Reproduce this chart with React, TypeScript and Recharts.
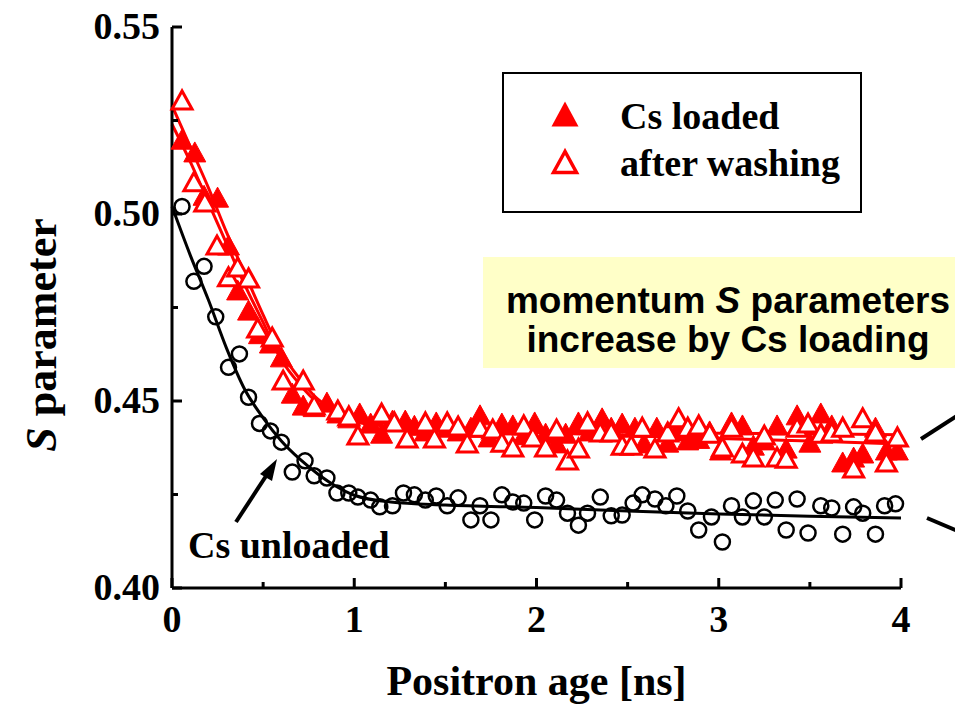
import {
  ComposedChart,
  Scatter,
  Line,
  XAxis,
  YAxis,
  Legend,
} from "recharts";

const SERIF = '"Liberation Serif", "Times New Roman", serif';
const SANS = '"Liberation Sans", Arial, sans-serif';
const RED = "#ff0000";

// Cs unloaded (open circles)
const unloadedX = [
  0.055, 0.12, 0.176, 0.24, 0.31, 0.37, 0.42, 0.48, 0.54, 0.6, 0.66, 0.73,
  0.78, 0.85, 0.905, 0.97, 1.02, 1.09, 1.14, 1.21, 1.27, 1.33, 1.39, 1.45,
  1.51, 1.57, 1.64, 1.69, 1.75, 1.81, 1.87, 1.93, 1.99, 2.05, 2.11, 2.17,
  2.23, 2.28, 2.35, 2.41, 2.47, 2.53, 2.58, 2.65, 2.71, 2.77, 2.83, 2.89,
  2.96, 3.02, 3.07, 3.13, 3.19, 3.25, 3.31, 3.37, 3.43, 3.49, 3.56, 3.62,
  3.68, 3.74, 3.79, 3.86, 3.91, 3.97,
];
const unloadedY = [
  0.502, 0.482, 0.486, 0.4725, 0.459, 0.4626, 0.451, 0.444, 0.442, 0.439,
  0.431, 0.434, 0.43, 0.4294, 0.4254, 0.4254, 0.4243, 0.4235, 0.4217, 0.422,
  0.4254, 0.4249, 0.4235, 0.4246, 0.422, 0.4241, 0.4182, 0.422, 0.4182,
  0.4249, 0.423, 0.4227, 0.4182, 0.4246, 0.4235, 0.42, 0.4168, 0.42, 0.4243,
  0.4193, 0.4195, 0.4227, 0.4249, 0.4238, 0.422, 0.4246, 0.4206, 0.4155,
  0.419, 0.4123, 0.422, 0.419, 0.4233, 0.419, 0.4235, 0.4155, 0.4238, 0.4147,
  0.422, 0.4214, 0.4144, 0.4217, 0.42, 0.4144, 0.422, 0.4225,
];

// Cs loaded (filled triangles)
const loadedX = [
  0.055, 0.125, 0.176, 0.25, 0.31, 0.36, 0.42, 0.48, 0.54, 0.6, 0.66, 0.72,
  0.78, 0.85, 0.91, 0.97, 1.03, 1.09, 1.15, 1.21, 1.28, 1.33, 1.39, 1.45,
  1.51, 1.57, 1.64, 1.69, 1.74, 1.81, 1.87, 1.93, 1.99, 2.05, 2.11, 2.16,
  2.23, 2.29, 2.36, 2.41, 2.47, 2.54, 2.59, 2.66, 2.72, 2.77, 2.83, 2.89,
  2.95, 3.01, 3.07, 3.13, 3.19, 3.25, 3.32, 3.37, 3.43, 3.5, 3.56, 3.62,
  3.68, 3.74, 3.79, 3.86, 3.92, 3.98,
];
const loadedY = [
  0.52, 0.5166, 0.505, 0.5045, 0.4917, 0.4797, 0.4743, 0.468, 0.4655, 0.4618,
  0.4521, 0.4489, 0.4485, 0.4497, 0.4468, 0.4455, 0.4468, 0.4441, 0.4414,
  0.4449, 0.4449, 0.4435, 0.442, 0.4444, 0.443, 0.442, 0.443, 0.4463, 0.4404,
  0.4441, 0.4436, 0.441, 0.4444, 0.4414, 0.4388, 0.4414, 0.4444, 0.442,
  0.4455, 0.443, 0.4441, 0.443, 0.4388, 0.443, 0.439, 0.442, 0.4396, 0.44,
  0.442, 0.4369, 0.4444, 0.4436, 0.4382, 0.4396, 0.4436, 0.4374, 0.4463,
  0.439, 0.4468, 0.4436, 0.4337, 0.435, 0.4361, 0.443, 0.4369, 0.4369,
];

// after washing (open triangles)
const washedX = [
  0.055, 0.12, 0.18, 0.247, 0.31, 0.36, 0.42, 0.47, 0.55, 0.61, 0.72, 0.78,
  0.91, 0.97, 1.02, 1.15, 1.22, 1.29, 1.39, 1.44, 1.51, 1.57, 1.62, 1.69,
  1.76, 1.81, 1.87, 1.93, 1.98, 2.05, 2.11, 2.17, 2.23, 2.28, 2.35, 2.41,
  2.47, 2.52, 2.58, 2.65, 2.72, 2.78, 2.83, 2.89, 2.95, 3.02, 3.07, 3.13,
  3.19, 3.25, 3.32, 3.37, 3.43, 3.49, 3.56, 3.62, 3.68, 3.74, 3.79, 3.86,
  3.92, 3.98,
];
const washedY = [
  0.5305, 0.5086, 0.5032, 0.4917, 0.4832, 0.4858, 0.4829, 0.4695, 0.4671,
  0.4556, 0.4556, 0.4489, 0.4476, 0.446, 0.4409, 0.4468, 0.4444, 0.4401,
  0.4444, 0.4401, 0.4444, 0.4433, 0.4388, 0.443, 0.4425, 0.439, 0.4377,
  0.4436, 0.4404, 0.4377, 0.4425, 0.4342, 0.4374, 0.4444, 0.4417, 0.4417,
  0.4382, 0.4382, 0.443, 0.4374, 0.4417, 0.4455, 0.443, 0.4436, 0.4414,
  0.4377, 0.443, 0.4361, 0.435, 0.4409, 0.435, 0.4347, 0.443, 0.4441, 0.4414,
  0.4417, 0.443, 0.4321, 0.4455, 0.4417, 0.4337, 0.4404,
];

// fitted curves
const fitX = [0, 0.1, 0.2, 0.3, 0.4, 0.5, 0.6, 0.7, 0.8, 0.9, 1.0, 1.2, 1.5, 2.0, 2.5, 3.0, 3.5, 4.0];
const unloadedFitY = [
  0.502, 0.489, 0.477, 0.464, 0.453, 0.4455, 0.4393, 0.4345, 0.4305, 0.4272,
  0.4248, 0.423, 0.4222, 0.4215, 0.4206, 0.4198, 0.4192, 0.4187,
];
const loadedFitY = [
  0.524, 0.514, 0.503, 0.492, 0.481, 0.471, 0.461, 0.4545, 0.4495, 0.4465,
  0.4445, 0.4432, 0.4425, 0.4415, 0.4408, 0.44, 0.4393, 0.4385,
];
const washedFitY = [
  0.529, 0.518, 0.507, 0.495, 0.484, 0.473, 0.463, 0.456, 0.4505, 0.4475,
  0.4455, 0.4438, 0.4428, 0.442, 0.4417, 0.4414, 0.4412, 0.441,
];

const xTicks = [0, 0.5, 1, 1.5, 2, 2.5, 3, 3.5, 4];
const yTicks = [0.4, 0.425, 0.45, 0.475, 0.5, 0.525, 0.55];

const zip = (xs: number[], ys: number[]) => xs.map((x, i) => ({ x, y: ys[i] }));

const unloaded = zip(unloadedX, unloadedY);
const loaded = zip(loadedX, loadedY);
const washed = zip(washedX, washedY);
const unloadedFit = zip(fitX, unloadedFitY);
const loadedFit = zip(fitX, loadedFitY);
const washedFit = zip(fitX, washedFitY);

const triPoints = (cx: number, cy: number, w: number, h: number) =>
  `${cx},${cy - h / 2} ${cx - w / 2},${cy + h / 2} ${cx + w / 2},${cy + h / 2}`;

const Circle = (p: any) => (
  <circle cx={p.cx} cy={p.cy} r={7.5} fill="none" stroke="#000" strokeWidth={2.5} />
);
const FilledTri = (p: any) => (
  <polygon points={triPoints(p.cx, p.cy, 22, 20)} fill={RED} stroke={RED} strokeWidth={1} />
);
const OpenTri = (p: any) => (
  <polygon
    points={triPoints(p.cx, p.cy, 20, 18)}
    fill="#fff"
    stroke={RED}
    strokeWidth={3}
    strokeLinejoin="miter"
  />
);

const isMajorY = (v: number) => Math.abs(v * 20 - Math.round(v * 20)) < 1e-6;
const isMajorX = (v: number) => Math.abs(v - Math.round(v)) < 1e-6;

const LeftTick = (p: any) => {
  const v = p.payload.value;
  const major = isMajorY(v);
  return (
    <g>
      <line x1={p.x} y1={p.y} x2={p.x + (major ? 10 : 6)} y2={p.y} stroke="#000" strokeWidth={3} />
      {major && (
        <text x={p.x - 12} y={p.y + 12} textAnchor="end" fontFamily={SERIF} fontWeight="bold" fontSize={38} fill="#000">
          {v.toFixed(2)}
        </text>
      )}
    </g>
  );
};

const RightTick = (p: any) => {
  const major = isMajorY(p.payload.value);
  return <line x1={p.x} y1={p.y} x2={p.x - (major ? 10 : 6)} y2={p.y} stroke="#000" strokeWidth={3} />;
};

const BottomTick = (p: any) => {
  const v = p.payload.value;
  const major = isMajorX(v);
  return (
    <g>
      <line x1={p.x} y1={p.y} x2={p.x} y2={p.y - (major ? 10 : 6)} stroke="#000" strokeWidth={3} />
      {major && (
        <text x={p.x} y={p.y + 44} textAnchor="middle" fontFamily={SERIF} fontWeight="bold" fontSize={38} fill="#000">
          {String(v)}
        </text>
      )}
    </g>
  );
};

const YTitle = (p: any) => {
  const vb = p.viewBox;
  const cx = vb.x + 56;
  const cy = vb.y + 308;
  return (
    <text
      x={cx}
      y={cy}
      transform={`rotate(-90 ${cx} ${cy})`}
      textAnchor="middle"
      fontFamily={SERIF}
      fontWeight="bold"
      fontSize={44}
      fill="#000"
    >
      <tspan fontStyle="italic">S</tspan> parameter
    </text>
  );
};

const XTitle = (p: any) => {
  const vb = p.viewBox;
  return (
    <text
      x={vb.x + vb.width / 2}
      y={vb.y + 107}
      textAnchor="middle"
      fontFamily={SERIF}
      fontWeight="bold"
      fontSize={42}
      fill="#000"
    >
      Positron age [ns]
    </text>
  );
};

const LegendBox = () => (
  <svg width={360} height={141} style={{ display: "block" }}>
    <rect x={1} y={1} width={358} height={139} fill="#fff" stroke="#000" strokeWidth={2} />
    <polygon points={triPoints(63, 42, 27, 25)} fill={RED} />
    <text x={118} y={57} fontFamily={SERIF} fontWeight="bold" fontSize={38} fill="#000">
      Cs loaded
    </text>
    <polygon points={triPoints(63, 90, 23, 21)} fill="#fff" stroke={RED} strokeWidth={3.5} />
    <text x={118} y={104} fontFamily={SERIF} fontWeight="bold" fontSize={38} fill="#000">
      after washing
    </text>
  </svg>
);

export default function App() {
  return (
    <div style={{ position: "absolute", left: 0, top: 0, width: 955, height: 707, background: "#fff", overflow: "hidden" }}>
      <div
        style={{
          position: "absolute",
          left: 483,
          top: 257,
          width: 480,
          height: 111,
          background: "#ffffc8",
        }}
      >
        <svg width={480} height={111} style={{ display: "block" }}>
          <text x={245} y={56} textAnchor="middle" fontFamily={SANS} fontWeight="bold" fontSize={37} fill="#000">
            momentum <tspan fontStyle="italic">S</tspan> parameters
          </text>
          <text x={245} y={95} textAnchor="middle" fontFamily={SANS} fontWeight="bold" fontSize={37} fill="#000">
            increase by Cs loading
          </text>
        </svg>
      </div>

      <div style={{ position: "absolute", left: 0, top: 0 }}>
        <ComposedChart width={955} height={707} margin={{ top: 27, right: 54, bottom: 0, left: 0 }}>
          <XAxis
            type="number"
            dataKey="x"
            domain={[0, 4]}
            ticks={xTicks}
            interval={0}
            height={119}
            tickSize={0}
            tickMargin={0}
            tickLine={false}
            axisLine={{ stroke: "#000", strokeWidth: 3 }}
            tick={BottomTick}
            label={XTitle}
          />
          <XAxis
            xAxisId="top"
            orientation="top"
            type="number"
            domain={[0, 4]}
            height={0}
            tick={false}
            tickLine={false}
            axisLine={{ stroke: "#000", strokeWidth: 3 }}
          />
          <YAxis
            type="number"
            domain={[0.4, 0.55]}
            ticks={yTicks}
            interval={0}
            width={172}
            tickSize={0}
            tickMargin={0}
            tickLine={false}
            axisLine={{ stroke: "#000", strokeWidth: 3 }}
            tick={LeftTick}
            label={YTitle}
          />
          <YAxis
            yAxisId="right"
            orientation="right"
            type="number"
            domain={[0.4, 0.55]}
            ticks={yTicks}
            interval={0}
            width={0}
            tickSize={0}
            tickMargin={0}
            tickLine={false}
            axisLine={{ stroke: "#000", strokeWidth: 3 }}
            tick={RightTick}
          />
          <Legend
            layout="horizontal"
            verticalAlign="middle"
            align="center"
            content={LegendBox}
            wrapperStyle={{ left: 502, top: 72, width: 360, height: 141 }}
          />
          <Scatter name="Cs unloaded" data={unloaded} dataKey="y" shape={Circle} isAnimationActive={false} />
          <Scatter name="Cs loaded" data={loaded} dataKey="y" shape={FilledTri} isAnimationActive={false} />
          <Scatter name="after washing" data={washed} dataKey="y" shape={OpenTri} isAnimationActive={false} />
          <Line data={unloadedFit} dataKey="y" type="monotone" stroke="#000" strokeWidth={3} dot={false} isAnimationActive={false} />
          <Line data={loadedFit} dataKey="y" type="monotone" stroke={RED} strokeWidth={3} dot={false} isAnimationActive={false} />
          <Line data={washedFit} dataKey="y" type="monotone" stroke={RED} strokeWidth={3} dot={false} isAnimationActive={false} />
        </ComposedChart>
      </div>

      <svg width={955} height={707} style={{ position: "absolute", left: 0, top: 0, pointerEvents: "none" }}>
        <line x1={236} y1={522} x2={268} y2={473} stroke="#000" strokeWidth={4} />
        <polygon points="277,459 260,474 272,481" fill="#000" />
        <text x={188} y={558} fontFamily={SERIF} fontWeight="bold" fontSize={38} fill="#000">
          Cs unloaded
        </text>
        <line x1={921} y1={439} x2={960} y2={414} stroke="#000" strokeWidth={4} />
        <line x1={927} y1={518} x2={960} y2={532} stroke="#000" strokeWidth={4} />
      </svg>
    </div>
  );
}
